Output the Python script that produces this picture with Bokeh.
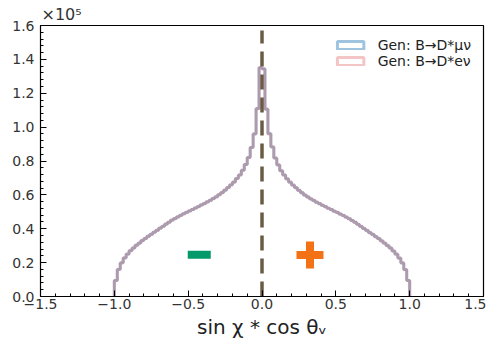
import numpy as np
from bokeh.plotting import figure
from bokeh.models import (Legend, LegendItem,
                          SingleIntervalTicker, CustomJSTickFormatter, Range1d)
from bokeh.embed import file_html
from bokeh.resources import INLINE

# ---------------- data ----------------
bin_lo, bin_hi, n_bins = -1.0, 1.0, 100

mu_counts = [9500, 16000, 19900, 22800, 25100, 27000, 28700, 30200, 31600, 33000,
             34300, 35500, 36700, 37900, 39100, 40300, 41500, 42700, 43900, 45000,
             46000, 47000, 47900, 48800, 49700, 50500, 51400, 52200, 53100, 54000,
             54900, 55800, 56800, 57800, 58900, 60100, 61400, 62800, 64300, 65900,
             67600, 69600, 71800, 74500, 78000, 82000, 88000, 96000, 111000, 135000,
             134500, 110500, 96200, 88300, 81800, 77700, 74300, 71700, 69500, 67500,
             65800, 64200, 62700, 61300, 60000, 58800, 57700, 56700, 55700, 54800,
             53900, 53000, 52100, 51300, 50400, 49600, 48700, 47800, 46900, 45900,
             44900, 43800, 42600, 41400, 40200, 39000, 37800, 36600, 35400, 34200,
             32900, 31500, 30100, 28600, 26900, 25000, 22700, 19800, 15900, 9400]

e_counts = [9400, 16100, 19800, 22900, 25000, 27100, 28600, 30300, 31500, 33100,
            34200, 35600, 36600, 38000, 39000, 40400, 41400, 42800, 43800, 45100,
            45900, 47100, 47800, 48900, 49600, 50600, 51300, 52300, 53000, 54100,
            54800, 55900, 56700, 57900, 58800, 60200, 61300, 62900, 64200, 66000,
            67500, 69700, 71700, 74600, 77900, 82100, 87900, 96100, 110800, 135200,
            134300, 110700, 96000, 88400, 81700, 77800, 74200, 71800, 69400, 67600,
            65700, 64300, 62600, 61400, 59900, 58900, 57600, 56800, 55600, 54900,
            53800, 53100, 52000, 51400, 50300, 49700, 48600, 47900, 46800, 46000,
            44800, 43900, 42500, 41500, 40100, 39100, 37700, 36700, 35300, 34300,
            32800, 31600, 30000, 28700, 26800, 25100, 22600, 19900, 15800, 9500]

series_labels = ["Gen: B\u2192D*\u03bc\u03bd", "Gen: B\u2192D*e\u03bd"]

vline_x = [0.0]
vline_top = [157000]

sign_x = [-0.425, 0.325]
sign_y = [24700, 24500]

x_label = "sin \u03c7 * cos \u03b8\u1d65"
y_scale_text = "\u00d710\u2075"

# ---------------- figure ----------------
font = "DejaVu Sans"
p = figure(width=486, height=341, output_backend="svg", toolbar_location=None,
           x_range=Range1d(-1.5, 1.5), y_range=Range1d(0, 160000),
           min_border_left=40, min_border_right=3, min_border_top=23,
           min_border_bottom=10, title=y_scale_text)
p.title.align = "left"
p.title.offset = 1
p.title.standoff = 4
p.title.text_font = font
p.title.text_font_size = "16px"
p.title.text_font_style = "normal"
p.title.text_color = "#333333"

p.background_fill_color = "white"
p.border_fill_color = "white"
p.outline_line_color = "black"
p.outline_line_width = 1.2
p.xgrid.visible = False
p.ygrid.visible = False

edges = np.linspace(bin_lo, bin_hi, n_bins + 1)


def step_outline(counts):
    c = np.asarray(counts, dtype=float)
    xs = np.repeat(edges, 2)
    ys = np.concatenate([[0.0], np.repeat(c, 2), [0.0]])
    return xs, ys


xm, ym = step_outline(mu_counts)
xe, ye = step_outline(e_counts)
p.line(xm, ym, line_color="#1f77b4", line_alpha=0.43, line_width=3)
p.line(xe, ye, line_color="#d62728", line_alpha=0.27, line_width=3)

# dashed divider
p.segment(x0=vline_x, y0=[0] * len(vline_x), x1=vline_x, y1=vline_top,
          line_color="#6b5b45", line_width=3.5, line_dash="15 8")

# sign markers
p.scatter(x=[sign_x[0]], y=[sign_y[0]], marker="dash", size=23,
          line_color="#04996b", line_width=8)
p.scatter(x=[sign_x[1]], y=[sign_y[1]], marker="cross", size=27,
          line_color="#f47216", line_width=8)

# legend proxies (outlined boxes, drawn outside the visible range)
r_mu = p.rect(x=[10], y=[-1e6], width=1, height=1, fill_alpha=0,
              line_color="#1f77b4", line_alpha=0.43, line_width=3)
r_e = p.rect(x=[10], y=[-1e6], width=1, height=1, fill_alpha=0,
             line_color="#d62728", line_alpha=0.27, line_width=3)
legend = Legend(items=[LegendItem(label=series_labels[0], renderers=[r_mu]),
                       LegendItem(label=series_labels[1], renderers=[r_e])],
                location="top_right", margin=0, padding=12, spacing=0,
                glyph_width=33, glyph_height=10, label_standoff=11,
                label_height=16,
                label_text_font=font, label_text_font_size="14px",
                label_text_color="#222222",
                background_fill_alpha=0, border_line_alpha=0)
p.add_layout(legend, "center")

# axes
p.xaxis.ticker = SingleIntervalTicker(interval=0.5, num_minor_ticks=5)
p.yaxis.ticker = SingleIntervalTicker(interval=20000, num_minor_ticks=5)
p.xaxis.formatter = CustomJSTickFormatter(
    code="return tick.toFixed(1).replace('-', '\u2212');")
p.yaxis.formatter = CustomJSTickFormatter(code="return (tick/1e5).toFixed(1);")
for ax in (p.xaxis[0], p.yaxis[0]):
    ax.major_tick_in = 6
    ax.major_tick_out = 0
    ax.minor_tick_in = 3
    ax.minor_tick_out = 0
    ax.major_tick_line_color = "black"
    ax.minor_tick_line_color = "black"
    ax.axis_line_color = "black"
    ax.major_label_text_font = font
    ax.major_label_text_font_size = "14px"
    ax.major_label_text_color = "#333333"
p.yaxis.major_label_standoff = 6
p.xaxis.major_label_standoff = 2
p.xaxis.axis_label = x_label
p.xaxis.axis_label_text_font = font
p.xaxis.axis_label_text_font_size = "20px"
p.xaxis.axis_label_text_font_style = "normal"
p.xaxis.axis_label_text_color = "#222222"
p.xaxis.axis_label_standoff = 3

open("out.html", "w").write(file_html(p, INLINE))
